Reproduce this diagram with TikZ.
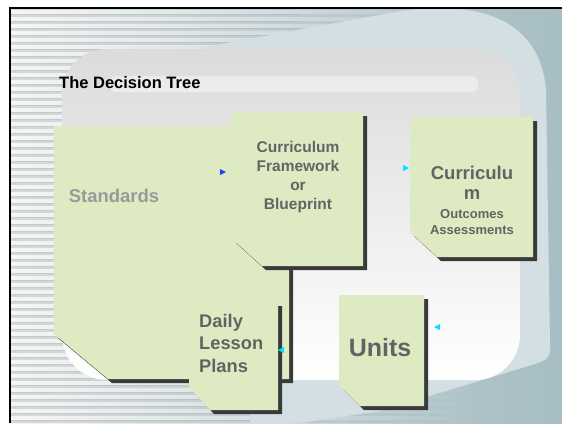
\documentclass[tikz,border=0pt]{standalone}
\usepackage{fontspec}
\setmainfont{Liberation Sans}
\usetikzlibrary{fadings}
\definecolor{boxgreen}{HTML}{DEEBC2}
\definecolor{boxshade}{HTML}{3A3A3A}
\definecolor{txtgrey}{HTML}{636363}
\definecolor{stdgrey}{HTML}{9A9A9A}
\definecolor{bgleft}{HTML}{D6D9DA}
\definecolor{bgright}{HTML}{A6BEC4}
\definecolor{rimcol}{HTML}{D3DFE2}
\definecolor{arrblue}{HTML}{1F3FFF}
\definecolor{arrcyan}{HTML}{00E0FF}
\newcommand\chbox[6]{%
  \fill[boxshade,shift={(4,4)}] (#1,#2) -- (#3,#2) -- (#3,#4) -- ({#1+#5},#4) -- (#1,{#4-#6}) -- cycle;
  \fill[boxgreen] (#1,#2) -- (#3,#2) -- (#3,#4) -- ({#1+#5},#4) -- (#1,{#4-#6}) -- cycle;}
\tikzset{
  boxtext/.style={text=txtgrey, font=\bfseries, inner sep=0pt},
  stripe/.style={fill=white, path fading=east, fill opacity=0.75},
}
\begin{document}
\begin{tikzpicture}[x=1pt,y=-1pt]
\useasboundingbox (0,0) rectangle (562,423);
\fill[white] (0,0) rectangle (562,423);
% background
\shade[left color=bgleft, right color=bgright] (10,8) rectangle (562,423);
\foreach \yy in {10,17,...,423}{
  \fill[stripe] (10,\yy) rectangle (480,\yy+3.5);
  \fill[black,opacity=0.06] (10,\yy+3.5) rectangle (300,\yy+4.5);
}
% tilted rim shape
\fill[rimcol] (200,48) -- (395,12) .. controls (480,-2) and (540,20) .. (546,90)
  -- (550,345) .. controls (551,356) and (548,360) .. (535,364) -- (380,411) -- (300,423) -- (250,423) -- (250,48) -- cycle;
% panel
\shade[top color=black!14, bottom color=white, rounded corners=45pt] (62,49) rectangle (520,380);
\fill[white,opacity=0.4,rounded corners=6pt] (110,76) rectangle (478,92);
% frame
\draw[black,line width=2pt] (10,423) -- (10,8) -- (562,8);
% title
\node[anchor=west, font=\fontsize{16.5}{20}\selectfont\bfseries, inner sep=0pt] (title) at (59,83) {The Decision Tree};
% boxes
\chbox{54}{126}{289}{379}{54}{45}
\node[text=stdgrey, font=\fontsize{18.5}{22}\selectfont\bfseries, inner sep=0pt] (std) at (114,196) {Standards};
\chbox{232}{112}{363}{266}{30}{27}
\node[boxtext, font=\fontsize{15.5}{19}\selectfont\bfseries, align=center] (frame) at (298,177) {Curriculum\\Framework\\or\\Blueprint};
\chbox{189}{302}{278}{410}{21}{23}
\node[boxtext, font=\fontsize{18.3}{22.5}\selectfont\bfseries, align=left, anchor=west] (daily) at (199,343) {Daily\\Lesson\\Plans};
\chbox{410}{117}{533}{257}{27}{25}
\node[boxtext, font=\fontsize{18.5}{20}\selectfont\bfseries, align=center] (outc) at (472,183) {Curriculu\\m};
\node[boxtext, font=\fontsize{13}{16}\selectfont\bfseries, align=center] (outa) at (472,222) {Outcomes\\Assessments};
\chbox{339}{295}{424}{406}{21}{21}
\node[boxtext, font=\fontsize{25}{28}\selectfont\bfseries] (units) at (380,348) {Units};
% small arrowheads
\fill[arrblue] (220,169) -- (226,172) -- (220,175) -- cycle;
\fill[arrcyan] (403,165) -- (409,168) -- (403,171) -- cycle;
\fill[arrcyan] (284,347) -- (278,350) -- (284,353) -- cycle;
\fill[arrcyan] (440,324) -- (434,327) -- (440,330) -- cycle;
\end{tikzpicture}
\end{document}
